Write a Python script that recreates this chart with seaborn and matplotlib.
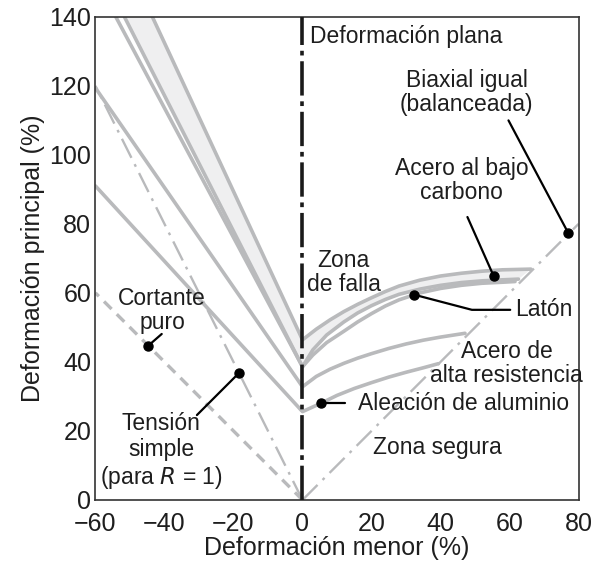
import matplotlib
matplotlib.use("Agg")
import matplotlib.pyplot as plt
import numpy as np
import pandas as pd
import seaborn as sns

# Forming-limit curves (minor strain %, major strain %)
lc_upper_x = [-43.5, 0, 4, 8, 12, 16, 20, 24, 28, 34, 40, 46, 52, 58, 66.2]
lc_upper_y = [140, 46.4, 49.5, 52.2, 54.6, 56.7, 58.6, 60.4, 62.0, 63.7,
              64.9, 65.7, 66.3, 66.7, 66.9]
lc_lower_x = [-51.6, 0, 3, 7, 12, 16, 20, 24, 28, 34, 40, 46, 52, 58, 62.6]
lc_lower_y = [140, 38.6, 43.5, 47.8, 51.6, 54.2, 56.3, 58.1, 59.6, 61.1,
              62.2, 63.0, 63.5, 63.8, 64.0]
brass_x = [-54.1, 0, 3, 7, 12, 16, 20, 24, 28, 34, 40, 46, 52, 58, 61.6]
brass_y = [140, 38.6, 42.0, 45.6, 48.9, 51.6, 54.0, 56.2, 58.0, 60.0,
           61.3, 62.2, 62.8, 63.1, 63.3]
hss_x = [-60, 0, 4, 8, 12, 16, 20, 25, 30, 35, 40, 47.1]
hss_y = [119.4, 32.8, 35.8, 37.9, 39.6, 41.1, 42.4, 43.9, 45.2, 46.3,
         47.2, 48.3]
al_x = [-60, 0, 5.3, 10, 15, 20, 25, 30, 35, 39.4]
al_y = [91.0, 25.6, 28.0, 30.3, 32.3, 34.0, 35.6, 37.0, 38.3, 39.5]

# Strain paths
shear_x, shear_y = [0, -60], [0, 60]
tension_x, tension_y = [0, -60], [0, 120]
biaxial_x, biaxial_y = [0, 80], [0, 80]
plane_x, plane_y = [0, 0], [0, 140]

# Axis ticks
xticks = [-60, -40, -20, 0, 20, 40, 60, 80]
yticks = [0, 20, 40, 60, 80, 100, 120, 140]

sns.set_style("white")
plt.rcParams["font.family"] = ["Liberation Sans", "DejaVu Sans"]
plt.rcParams["axes.unicode_minus"] = True
FS = 16.5
FS_AX = 18

GRAY = "#b9babc"
SHADE = "#efeff0"
INK = "#1e1e1e"

fig = plt.figure(figsize=(5.93, 5.63), dpi=100)
ax = fig.add_axes([0.161, 0.112, 0.8146, 0.858])

# shaded band of the low-carbon steel
band_x = lc_upper_x + lc_lower_x[::-1]
band_y = lc_upper_y + lc_lower_y[::-1]
ax.fill(band_x, band_y, color=SHADE, lw=0, zorder=1)

curves = pd.concat([
    pd.DataFrame({"curve": name, "x": xs, "y": ys})
    for name, xs, ys in [
        ("lc_upper", lc_upper_x, lc_upper_y),
        ("lc_lower", lc_lower_x, lc_lower_y),
        ("brass", brass_x, brass_y),
        ("hss", hss_x, hss_y),
        ("al", al_x, al_y),
    ]
], ignore_index=True)

sns.lineplot(data=curves, x="x", y="y", units="curve", estimator=None,
             sort=False, color=GRAY, lw=2.6, ax=ax, zorder=2)

sns.lineplot(x=shear_x, y=shear_y, estimator=None, sort=False, color=GRAY,
             lw=2.4, linestyle=(0, (3.2, 2.2)), ax=ax, zorder=2)
sns.lineplot(x=tension_x, y=tension_y, estimator=None, sort=False,
             color=GRAY, lw=1.7, linestyle=(0, (9, 3, 1.2, 3)), ax=ax, zorder=2)
sns.lineplot(x=biaxial_x, y=biaxial_y, estimator=None, sort=False,
             color=GRAY, lw=1.7, linestyle=(0, (9, 3, 1.2, 3)), ax=ax, zorder=2)
sns.lineplot(x=plane_x, y=plane_y, estimator=None, sort=False, orient="y",
             color="#1a1a1a", lw=2.6, linestyle=(0, (9.5, 1.6, 1.3, 1.6)),
             ax=ax, zorder=3)

ax.set_xlim(-60, 80)
ax.set_ylim(0, 140)
ax.set_xticks(xticks)
ax.set_yticks(yticks)
ax.tick_params(direction="in", length=8, width=1.2, labelsize=FS_AX,
               colors=INK)
ax.tick_params(axis="x", pad=9)
ax.tick_params(axis="y", pad=3)
for s in ax.spines.values():
    s.set_color("#333333")
    s.set_linewidth(1.2)
ax.set_xlabel("Deformación menor (%)", fontsize=FS_AX, color=INK, labelpad=0)
ax.set_ylabel("Deformación principal (%)", fontsize=FS_AX, color=INK,
              labelpad=3)

TXT = dict(fontsize=FS, color=INK)

def dot(x, y):
    ax.plot([x], [y], "o", color="black", ms=6.5, zorder=5)

def lead(xs, ys):
    ax.plot(xs, ys, color="black", lw=1.6, zorder=4)

ax.text(2.2, 134.3, "Deformación plana", ha="left", va="center", **TXT)
ax.text(47.6, 118.0, "Biaxial igual\n(balanceada)", ha="center",
        va="center", linespacing=1.05, **TXT)
dot(77, 77.4)
lead([77, 59.7], [77.4, 110])

ax.text(46.2, 92.6, "Acero al bajo\ncarbono", ha="center", va="center",
        linespacing=1.1, **TXT)
dot(55.4, 64.9)
lead([55.4, 47.8], [64.9, 82.0])

ax.text(11.9, 65.8, "Zona\nde falla", ha="center", va="center",
        linespacing=1.05, **TXT)

dot(32.3, 59.5)
lead([32.3, 49.1, 60.2], [59.5, 55.1, 55.1])
ax.text(61.6, 55.1, "Latón", ha="left", va="center", **TXT)

ax.text(59.2, 39.5, "Acero de\nalta resistencia", ha="center",
        va="center", linespacing=1.05, **TXT)

dot(5.3, 28.0)
lead([5.3, 12.3], [28.0, 28.0])
ax.text(16.2, 28.0, "Aleación de aluminio", ha="left", va="center", **TXT)

ax.text(20.4, 15.2, "Zona segura", ha="left", va="center", **TXT)

ax.text(-40.7, 55.0, "Cortante\npuro", ha="center", va="center",
        linespacing=1.05, **TXT)
dot(-44.7, 44.7)
lead([-44.7, -40.8], [44.7, 48.1])

ax.text(-41.0, 14.0, "Tensión\nsimple\n(para $R$ = 1)", ha="center",
        va="center", linespacing=1.15, **TXT)
dot(-18.4, 36.8)
lead([-18.4, -30.6], [36.8, 24.6])

fig.savefig("out.png", dpi=100)
